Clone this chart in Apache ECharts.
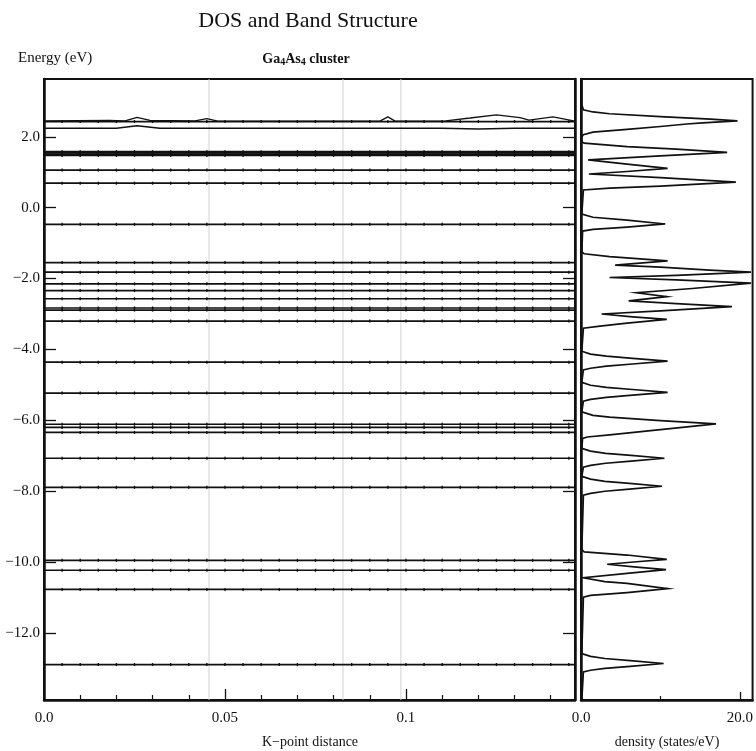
<!DOCTYPE html>
<html>
<head>
<meta charset="utf-8">
<title>DOS and Band Structure</title>
<script src="https://cdn.jsdelivr.net/npm/echarts@6/dist/echarts.min.js"></script>
<style>
  html, body { margin: 0; padding: 0; background: #fff; }
  #chart { width: 756px; height: 751px; }
</style>
</head>
<body>
<div id="chart"></div>
<script>
// K-point sampling along the path (one entry per computed k-point)
const kPoints = [0, 0.005, 0.01, 0.015, 0.02, 0.025, 0.03, 0.035, 0.04, 0.045,
  0.05, 0.055, 0.06, 0.065, 0.07, 0.075, 0.08, 0.085, 0.09, 0.095,
  0.1, 0.105, 0.11, 0.115, 0.12, 0.125, 0.13, 0.135, 0.14, 0.145, 0.1467];

// Flat cluster levels (eV)
const bandEnergies = [2.43, 1.58, 1.545, 1.51, 1.475, 1.06, 0.69, -0.47,
  -1.55, -1.82, -2.15, -2.34, -2.57, -2.83, -2.89, -3.20,
  -4.36, -5.23, -6.11, -6.20, -6.34, -7.07, -7.89,
  -9.95, -10.23, -10.77, -12.89];

// Dispersive levels near the top of the window
const upperBandK = [0, 0.018, 0.0224, 0.0257, 0.0293, 0.0417, 0.045, 0.048, 0.0928, 0.095, 0.097, 0.111, 0.1177, 0.125, 0.1315, 0.134, 0.1406, 0.1467];
const upperBandE = [2.45, 2.46, 2.45, 2.55, 2.46, 2.45, 2.51, 2.44, 2.44, 2.56, 2.44, 2.45, 2.53, 2.62, 2.54, 2.47, 2.56, 2.44];
const lowerBandK = [0, 0.02, 0.0257, 0.032, 0.11, 0.12, 0.13, 0.1467];
const lowerBandE = [2.24, 2.24, 2.31, 2.24, 2.24, 2.22, 2.24, 2.24];

// High-symmetry k-point separators
const kSeparators = [0.0456, 0.0826, 0.0986];

// Density of states: [density (states/eV), energy (eV)]
const dosCurve = [
  [0.1, 3.63], [0.1, 2.9], [0.3, 2.76], [1.5, 2.70], [3.6, 2.65], [10.0, 2.57], [16.3, 2.50], [19.7, 2.45],
  [15.3, 2.39], [13.3, 2.36], [10.0, 2.29], [5.8, 2.21], [1.5, 2.13], [0.3, 2.06], [0.1, 2.0],
  [0.1, 1.86], [0.4, 1.82], [5.8, 1.72], [12.0, 1.65], [18.4, 1.56], [10.0, 1.46], [0.9, 1.35],
  [5.8, 1.23], [10.9, 1.11], [5.8, 1.02], [1.0, 0.95],
  [10.0, 0.85], [19.5, 0.72], [10.0, 0.61], [3.6, 0.55], [0.3, 0.5], [0.1, 0.45],
  [0.1, -0.18], [0.3, -0.22], [1.5, -0.27], [5.8, -0.35], [10.6, -0.46], [5.8, -0.55], [1.5, -0.61], [0.2, -0.66], [0.1, -0.7],
  [0.1, -1.25], [0.4, -1.30], [3.6, -1.38], [10.9, -1.50], [4.3, -1.62], [10.0, -1.68], [16.2, -1.76], [21.4, -1.82],
  [12.0, -1.91], [3.6, -1.97], [12.0, -2.04], [21.4, -2.13], [14.0, -2.28], [7.0, -2.40], [10.8, -2.51], [6.0, -2.63],
  [12.0, -2.71], [19.0, -2.79], [10.0, -2.91], [2.6, -3.0], [6.5, -3.08], [10.8, -3.15], [5.8, -3.26], [2.4, -3.34],
  [0.3, -3.40], [0.1, -3.45],
  [0.1, -4.05], [0.3, -4.08], [1.2, -4.13], [3.2, -4.19], [6.5, -4.25], [10.9, -4.33], [6.5, -4.41], [3.2, -4.47], [1.2, -4.53], [0.3, -4.58], [0.1, -4.62],
  [0.1, -4.93], [0.3, -4.96], [1.2, -5.01], [3.2, -5.07], [6.5, -5.13], [10.9, -5.21], [6.5, -5.29], [3.2, -5.35], [1.2, -5.41], [0.3, -5.46], [0.1, -5.5],
  [0.1, -5.76], [0.3, -5.80], [1.5, -5.86], [3.6, -5.91], [10.0, -6.01], [17.0, -6.10], [10.0, -6.26], [3.6, -6.41], [0.8, -6.47], [0.2, -6.51], [0.1, -6.55],
  [0.1, -6.79], [0.3, -6.82], [1.2, -6.87], [3.1, -6.93], [6.3, -6.99], [10.5, -7.07], [6.3, -7.15], [3.1, -7.21], [1.2, -7.27], [0.3, -7.32], [0.1, -7.36],
  [0.1, -7.58], [0.3, -7.61], [1.2, -7.66], [3.0, -7.72], [6.1, -7.78], [10.2, -7.86], [6.1, -7.94], [3.0, -8.0], [1.2, -8.06], [0.3, -8.11], [0.1, -8.15],
  [0.1, -9.65], [0.4, -9.71], [5.8, -9.80], [10.8, -9.92], [7.0, -9.99], [3.3, -10.06], [7.0, -10.14], [10.7, -10.21], [5.8, -10.32],
  [0.3, -10.44], [0.2, -10.47], [3.0, -10.55], [5.8, -10.6], [10.9, -10.75], [5.8, -10.86], [1.2, -10.94], [0.3, -10.99], [0.1, -11.03],
  [0.1, -12.58], [0.3, -12.61], [1.2, -12.66], [3.0, -12.72], [6.2, -12.78], [10.4, -12.86], [6.2, -12.94], [3.0, -13.0], [1.2, -13.05], [0.3, -13.1], [0.1, -13.14],
  [0.1, -13.89]
];

// Axis ranges and ticks
const energyRange = [-13.89, 3.63];
const energyTicks = [-12, -10, -8, -6, -4, -2, 0, 2];
const kRange = [0, 0.1467];
const kMajorTicks = [0, 0.05, 0.1];
const kTickLabels = ['0.0', '0.05', '0.1'];
const kMinorTicks = [0.01, 0.02, 0.03, 0.04, 0.06, 0.07, 0.08, 0.09, 0.11, 0.12, 0.13, 0.14];
const dosRange = [0, 21.6];
const dosMajorTicks = [0, 20];
const dosTickLabels = ['0.0', '20.0'];
const dosMinorTicks = [10];

const SERIF = '"Liberation Serif", "DejaVu Serif", serif';
const INK = '#111';

function energyLabel(v) {
  return (v < 0 ? '\u2212' : '') + Math.abs(v).toFixed(1);
}
function lookupLabel(values, labels) {
  return function (v) {
    for (let i = 0; i < values.length; i++) {
      if (Math.abs(values[i] - v) < 1e-9) return labels[i];
    }
    return '';
  };
}

const series = [];

// k-point separators, drawn underneath the bands
kSeparators.forEach(function (k) {
  series.push({
    type: 'line', xAxisIndex: 0, yAxisIndex: 0,
    data: [[k, energyRange[0]], [k, energyRange[1]]],
    symbol: 'none', lineStyle: { color: '#d2d2d2', width: 1 },
    silent: true, z: 1
  });
});

bandEnergies.forEach(function (e) {
  series.push({
    type: 'line', xAxisIndex: 0, yAxisIndex: 0,
    data: kPoints.map(k => [k, e]),
    symbol: 'rect', symbolSize: [1.4, 3], showAllSymbol: true,
    itemStyle: { color: INK },
    lineStyle: { color: INK, width: 1.7 },
    silent: true, z: 3
  });
});

series.push({
  type: 'line', xAxisIndex: 0, yAxisIndex: 0,
  data: upperBandK.map((k, i) => [k, upperBandE[i]]),
  symbol: 'none', lineStyle: { color: INK, width: 1.3 }, silent: true, z: 3
});
series.push({
  type: 'line', xAxisIndex: 0, yAxisIndex: 0,
  data: lowerBandK.map((k, i) => [k, lowerBandE[i]]),
  symbol: 'none', lineStyle: { color: INK, width: 1.6 }, silent: true, z: 3
});

// Density of states panel
series.push({
  type: 'line', xAxisIndex: 2, yAxisIndex: 2,
  data: dosCurve, symbol: 'none',
  lineStyle: { color: INK, width: 1.7, join: 'miter' },
  silent: true, z: 3
});

const axisLineStyle = { color: INK, width: 2.5 };

const option = {
  animation: false,
  backgroundColor: '#fff',
  grid: [
    { left: 44, top: 79, width: 531, height: 621, show: true, borderColor: INK, borderWidth: 2, backgroundColor: 'transparent' },
    { left: 581, top: 79, width: 172, height: 621, show: true, borderColor: INK, borderWidth: 2, backgroundColor: 'transparent' }
  ],
  xAxis: [
    {
      gridIndex: 0, type: 'value', position: 'bottom', min: kRange[0], max: kRange[1],
      axisLine: { show: true, onZero: false, lineStyle: axisLineStyle },
      axisTick: { show: true, inside: true, length: 11, customValues: kMajorTicks.slice(1), lineStyle: { color: INK, width: 1.3 } },
      axisLabel: { show: true, customValues: kMajorTicks, formatter: lookupLabel(kMajorTicks, kTickLabels),
        margin: 11, fontFamily: SERIF, fontSize: 15, color: INK },
      splitLine: { show: false }
    },
    {
      gridIndex: 0, type: 'value', position: 'bottom', min: kRange[0], max: kRange[1],
      axisLine: { show: false, onZero: false },
      axisTick: { show: true, inside: true, length: 5, customValues: kMinorTicks, lineStyle: { color: INK, width: 1.2 } },
      axisLabel: { show: false }, splitLine: { show: false }
    },
    {
      gridIndex: 1, type: 'value', position: 'bottom', min: dosRange[0], max: dosRange[1],
      axisLine: { show: true, onZero: false, lineStyle: axisLineStyle },
      axisTick: { show: true, inside: true, length: 8, customValues: [dosMajorTicks[1]], lineStyle: { color: INK, width: 1.3 } },
      axisLabel: { show: true, customValues: dosMajorTicks, formatter: lookupLabel(dosMajorTicks, dosTickLabels),
        margin: 11, fontFamily: SERIF, fontSize: 15, color: INK },
      splitLine: { show: false }
    },
    {
      gridIndex: 1, type: 'value', position: 'bottom', min: dosRange[0], max: dosRange[1],
      axisLine: { show: false, onZero: false },
      axisTick: { show: true, inside: true, length: 4, customValues: dosMinorTicks, lineStyle: { color: INK, width: 1.2 } },
      axisLabel: { show: false }, splitLine: { show: false }
    }
  ],
  yAxis: [
    {
      gridIndex: 0, type: 'value', position: 'left', min: energyRange[0], max: energyRange[1],
      axisLine: { show: true, onZero: false, lineStyle: axisLineStyle },
      axisTick: { show: true, inside: true, length: 12, customValues: energyTicks, lineStyle: { color: INK, width: 1.3 } },
      axisLabel: { show: true, customValues: energyTicks, formatter: energyLabel, margin: 4,
        padding: [8, 0, 0, 0], fontFamily: SERIF, fontSize: 15, color: INK },
      splitLine: { show: false }
    },
    {
      gridIndex: 0, type: 'value', position: 'right', min: energyRange[0], max: energyRange[1],
      axisLine: { show: true, onZero: false, lineStyle: axisLineStyle },
      axisTick: { show: true, inside: true, length: 12, customValues: energyTicks, lineStyle: { color: INK, width: 1.3 } },
      axisLabel: { show: false }, splitLine: { show: false }
    },
    {
      gridIndex: 1, type: 'value', position: 'left', min: energyRange[0], max: energyRange[1],
      axisLine: { show: true, onZero: false, lineStyle: axisLineStyle },
      axisTick: { show: false }, axisLabel: { show: false }, splitLine: { show: false }
    }
  ],
  graphic: [
    { type: 'text', x: 308, y: 21, style: { text: 'DOS and Band Structure', font: '22px ' + SERIF, fill: INK, textAlign: 'center', textVerticalAlign: 'middle' } },
    { type: 'text', x: 18, y: 58, style: { text: 'Energy (eV)', font: '15px ' + SERIF, fill: INK, textAlign: 'left', textVerticalAlign: 'middle' } },
    { type: 'text', x: 306, y: 59, style: {
        text: '{a|Ga}{s|4}{a|As}{s|4}{a| cluster}',
        textAlign: 'center', textVerticalAlign: 'middle',
        rich: {
          a: { fontFamily: SERIF, fontSize: 14, fontWeight: 'bold', fill: INK, lineHeight: 18 },
          s: { fontFamily: SERIF, fontSize: 10, fontWeight: 'bold', fill: INK, lineHeight: 18, padding: [7, 0, 0, 0] }
        }
      } },
    { type: 'text', x: 310, y: 742, style: { text: 'K\u2212point distance', font: '14px ' + SERIF, fill: INK, textAlign: 'center', textVerticalAlign: 'middle' } },
    { type: 'text', x: 667, y: 742, style: { text: 'density (states/eV)', font: '14px ' + SERIF, fill: INK, textAlign: 'center', textVerticalAlign: 'middle' } }
  ],
  series: series
};

const chart = echarts.init(document.getElementById('chart'), null, { renderer: 'canvas' });
chart.setOption(option);
</script>
</body>
</html>
